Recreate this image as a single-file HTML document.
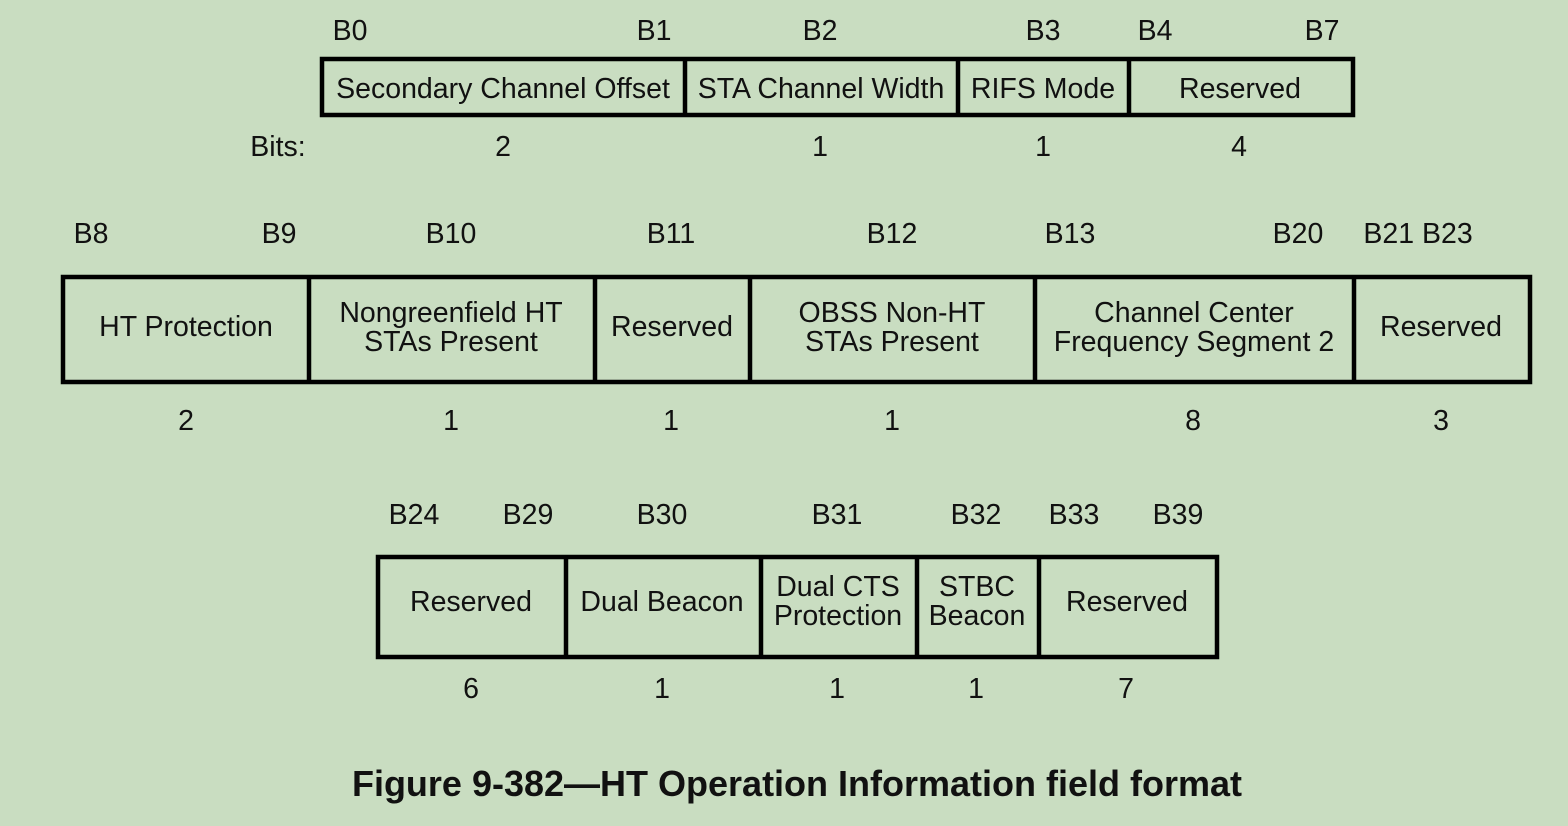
<!DOCTYPE html>
<html><head><style>
html,body{margin:0;padding:0;background:#c9ddc1;}
svg{display:block}
text{font-family:"Liberation Sans",Arial,sans-serif;font-size:28.5px;fill:#111;}
</style></head><body>
<svg width="1568" height="826" viewBox="0 0 1568 826" xmlns="http://www.w3.org/2000/svg">
<rect width="1568" height="826" fill="#c9ddc1"/>
<g stroke="#000" stroke-width="4.5" fill="none">
<rect x="322" y="59" width="1031" height="56"/>
<line x1="685" y1="59" x2="685" y2="115"/><line x1="958" y1="59" x2="958" y2="115"/><line x1="1129" y1="59" x2="1129" y2="115"/>
<rect x="63" y="277" width="1467" height="105"/>
<line x1="309" y1="277" x2="309" y2="382"/><line x1="595" y1="277" x2="595" y2="382"/><line x1="750" y1="277" x2="750" y2="382"/><line x1="1035" y1="277" x2="1035" y2="382"/><line x1="1354" y1="277" x2="1354" y2="382"/>
<rect x="378" y="557" width="839" height="100"/>
<line x1="566" y1="557" x2="566" y2="657"/><line x1="761" y1="557" x2="761" y2="657"/><line x1="917" y1="557" x2="917" y2="657"/><line x1="1039" y1="557" x2="1039" y2="657"/>
</g>
<g text-anchor="middle">
<text x="350" y="40">B0</text><text x="654" y="40">B1</text><text x="820" y="40">B2</text><text x="1043" y="40">B3</text><text x="1155" y="40">B4</text><text x="1322" y="40">B7</text>
<text x="503" y="98">Secondary Channel Offset</text><text x="821" y="98">STA Channel Width</text><text x="1043" y="98">RIFS Mode</text><text x="1240" y="98">Reserved</text>
<text x="278" y="156">Bits:</text><text x="503" y="156">2</text><text x="820" y="156">1</text><text x="1043" y="156">1</text><text x="1239" y="156">4</text>
<text x="91" y="243">B8</text><text x="279" y="243">B9</text><text x="451" y="243">B10</text><text x="671" y="243">B11</text><text x="892" y="243">B12</text><text x="1070" y="243">B13</text><text x="1298" y="243">B20</text><text x="1418" y="243">B21 B23</text>
<text x="186" y="336">HT Protection</text>
<text x="451" y="322">Nongreenfield HT</text><text x="451" y="351">STAs Present</text>
<text x="672" y="336">Reserved</text>
<text x="892" y="322">OBSS Non-HT</text><text x="892" y="351">STAs Present</text>
<text x="1194" y="322">Channel Center</text><text x="1194" y="351">Frequency Segment 2</text>
<text x="1441" y="336">Reserved</text>
<text x="186" y="430">2</text><text x="451" y="430">1</text><text x="671" y="430">1</text><text x="892" y="430">1</text><text x="1193" y="430">8</text><text x="1441" y="430">3</text>
<text x="414" y="524">B24</text><text x="528" y="524">B29</text><text x="662" y="524">B30</text><text x="837" y="524">B31</text><text x="976" y="524">B32</text><text x="1074" y="524">B33</text><text x="1178" y="524">B39</text>
<text x="471" y="611">Reserved</text><text x="662" y="611">Dual Beacon</text>
<text x="838" y="596">Dual CTS</text><text x="838" y="625">Protection</text>
<text x="977" y="596">STBC</text><text x="977" y="625">Beacon</text>
<text x="1127" y="611">Reserved</text>
<text x="471" y="698">6</text><text x="662" y="698">1</text><text x="837" y="698">1</text><text x="976" y="698">1</text><text x="1126" y="698">7</text>
<text x="797" y="796" style="font-size:36px;font-weight:bold">Figure 9-382—HT Operation Information field format</text>
</g>
</svg>
</body></html>
